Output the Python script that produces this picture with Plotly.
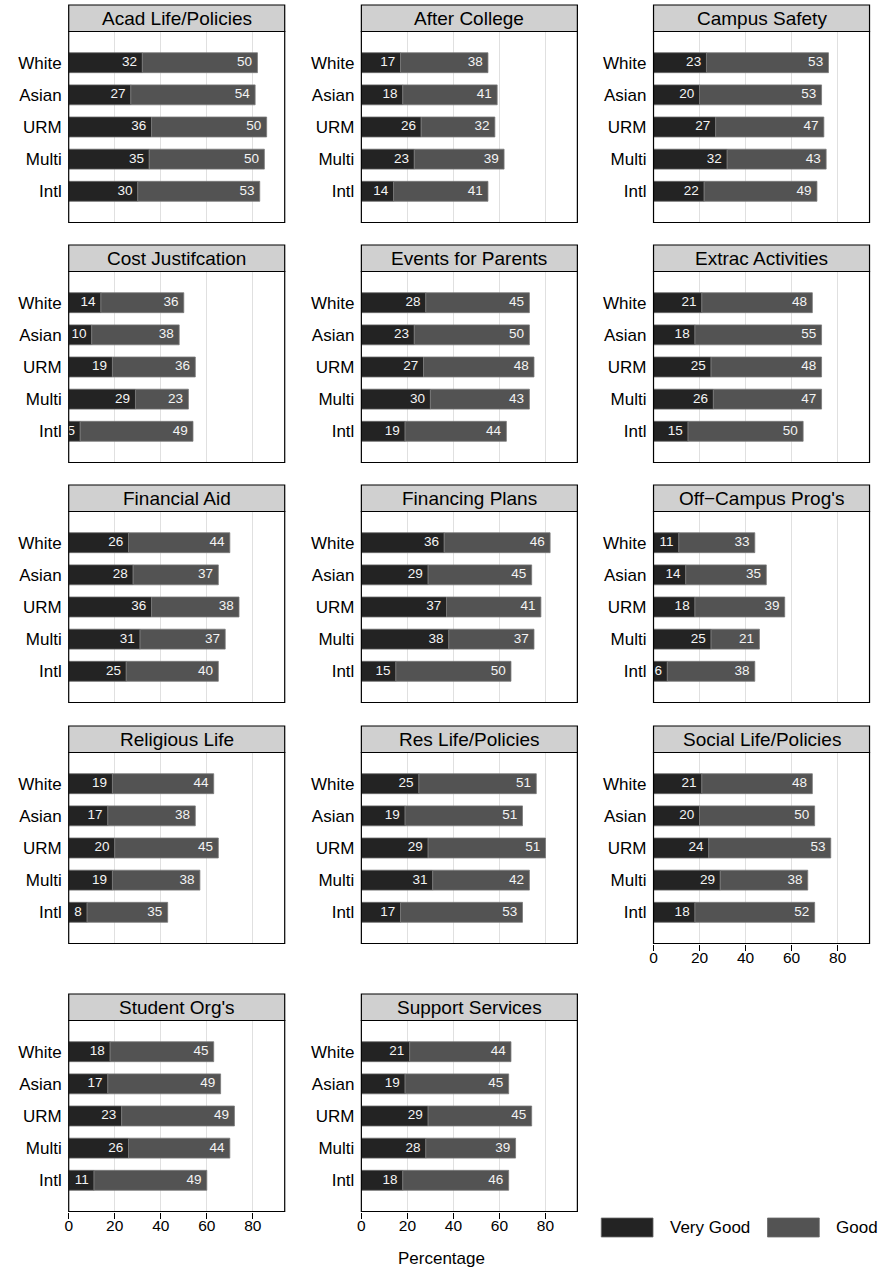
import plotly.graph_objects as go

groups = ["White", "Asian", "URM", "Multi", "Intl"]
topics = [
    "Acad Life/Policies", "After College", "Campus Safety",
    "Cost Justifcation", "Events for Parents", "Extrac Activities",
    "Financial Aid", "Financing Plans", "Off\u2212Campus Prog's",
    "Religious Life", "Res Life/Policies", "Social Life/Policies",
    "Student Org's", "Support Services",
]
very_good = [
    [32, 27, 36, 35, 30],
    [17, 18, 26, 23, 14],
    [23, 20, 27, 32, 22],
    [14, 10, 19, 29, 5],
    [28, 23, 27, 30, 19],
    [21, 18, 25, 26, 15],
    [26, 28, 36, 31, 25],
    [36, 29, 37, 38, 15],
    [11, 14, 18, 25, 6],
    [19, 17, 20, 19, 8],
    [25, 19, 29, 31, 17],
    [21, 20, 24, 29, 18],
    [18, 17, 23, 26, 11],
    [21, 19, 29, 28, 18],
]
good = [
    [50, 54, 50, 50, 53],
    [38, 41, 32, 39, 41],
    [53, 53, 47, 43, 49],
    [36, 38, 36, 23, 49],
    [45, 50, 48, 43, 44],
    [48, 55, 48, 47, 50],
    [44, 37, 38, 37, 40],
    [46, 45, 41, 37, 50],
    [33, 35, 39, 21, 38],
    [44, 38, 45, 38, 35],
    [51, 51, 51, 42, 53],
    [48, 50, 53, 38, 52],
    [45, 49, 49, 44, 49],
    [44, 45, 45, 39, 46],
]
x_ticks = [0, 20, 40, 60, 80]
legend_names = ["Very Good", "Good"]

VG = "#232323"
GD = "#535353"
FONT = "Liberation Sans, Arial, Helvetica, sans-serif"

W, H = 878, 1270


def px(x):
    return x / W


def py(y):
    return 1 - y / H


col_x = [(65, 282), (359, 576), (652.5, 869.5)]
row_top = [5, 245, 485, 726, 994]
HDR = 26.5
PH = 217.5
XMAX = 93.85
LABEL_OFF = 2.3
bottom_panels = {11, 12, 13}

fig = go.Figure()
shapes = []
annotations = []
layout_axes = {}

for i, t in enumerate(topics):
    r, c = divmod(i, 3)
    ax = "" if i == 0 else str(i + 1)
    x0, x1 = col_x[c]
    top = row_top[r]
    bot = top + PH
    xd = [px(x0), px(x1)]
    yd = [py(bot), py(top + HDR)]
    is_bottom = i in bottom_panels

    vg = very_good[i]
    gd = good[i]
    cum = [a + b for a, b in zip(vg, gd)]

    fig.add_trace(go.Bar(
        y=groups, x=vg, orientation="h", width=0.62,
        marker=dict(color=VG, line=dict(color="#6a6a6a", width=0.8)),
        name=legend_names[0], showlegend=False, hoverinfo="x+y",
        xaxis="x" + ax, yaxis="y" + ax,
    ))
    fig.add_trace(go.Bar(
        y=groups, x=gd, base=vg, orientation="h", width=0.62,
        marker=dict(color=GD, line=dict(color="#7a7a7a", width=0.8)),
        name=legend_names[1], showlegend=False, hoverinfo="x+y",
        xaxis="x" + ax, yaxis="y" + ax,
    ))
    fig.add_trace(go.Scatter(
        x=[v - LABEL_OFF for v in vg] + [v - LABEL_OFF for v in cum],
        y=groups + groups,
        mode="text",
        text=[str(v) for v in vg] + [str(v) for v in gd],
        textposition="middle left",
        textfont=dict(color="#f4f4f4", size=13.5, family=FONT),
        showlegend=False, hoverinfo="skip", cliponaxis=True,
        xaxis="x" + ax, yaxis="y" + ax,
    ))

    layout_axes["xaxis" + ax] = dict(
        domain=xd, range=[0, XMAX], tickvals=x_ticks,
        showgrid=True, gridcolor="#e0e0e0", gridwidth=1,
        zeroline=False, showline=False,
        showticklabels=is_bottom,
        ticks="outside" if is_bottom else "", ticklen=6, tickwidth=1,
        tickcolor="black", ticklabelstandoff=-6,
        tickfont=dict(size=15.5, color="black", family=FONT),
        anchor="y" + ax, fixedrange=True,
    )
    layout_axes["yaxis" + ax] = dict(
        domain=yd, type="category", categoryorder="array",
        categoryarray=groups, range=[4.97, -0.97],
        showgrid=False, zeroline=False, showline=False, ticks="",
        tickfont=dict(size=17, color="black", family=FONT),
        ticklabelstandoff=6,
        anchor="x" + ax, fixedrange=True,
    )

    # panel border
    shapes.append(dict(type="rect", xref="paper", yref="paper",
                       x0=px(x0), x1=px(x1), y0=py(bot), y1=py(top + HDR),
                       line=dict(color="black", width=1.2), fillcolor="rgba(0,0,0,0)",
                       layer="above"))
    # strip header
    shapes.append(dict(type="rect", xref="paper", yref="paper",
                       x0=px(x0), x1=px(x1), y0=py(top + HDR), y1=py(top),
                       line=dict(color="black", width=1.2), fillcolor="#d0d0d0",
                       layer="above"))
    annotations.append(dict(text=t, xref="paper", yref="paper",
                            x=px((x0 + x1) / 2), y=py(top + HDR / 2),
                            xanchor="center", yanchor="middle", showarrow=False,
                            font=dict(size=19, color="black", family=FONT)))

# x-axis title
annotations.append(dict(text="Percentage", xref="paper", yref="paper",
                        x=px(439), y=py(1258), xanchor="center", yanchor="middle",
                        showarrow=False, font=dict(size=17, color="black", family=FONT)))

# key
for (sx0, sx1, tx), name, col in zip([(600, 652, 667), (767, 819, 834)], legend_names, [VG, GD]):
    shapes.append(dict(type="rect", xref="paper", yref="paper",
                       x0=px(sx0), x1=px(sx1), y0=py(1237), y1=py(1218),
                       line=dict(color="#6a6a6a", width=0.8), fillcolor=col))
    annotations.append(dict(text=name, xref="paper", yref="paper",
                            x=px(tx), y=py(1227.5), xanchor="left", yanchor="middle",
                            showarrow=False, font=dict(size=17, color="black", family=FONT)))

fig.update_layout(
    width=W, height=H,
    margin=dict(l=0, r=0, t=0, b=0),
    paper_bgcolor="white", plot_bgcolor="white",
    barmode="overlay", showlegend=False,
    font=dict(family=FONT, color="black"),
    shapes=shapes, annotations=annotations,
    **layout_axes,
)

fig.write_html(
    "out.html",
    config={"displayModeBar": False},
    post_script="document.body.style.margin='0';document.body.style.overflow='hidden';",
)
